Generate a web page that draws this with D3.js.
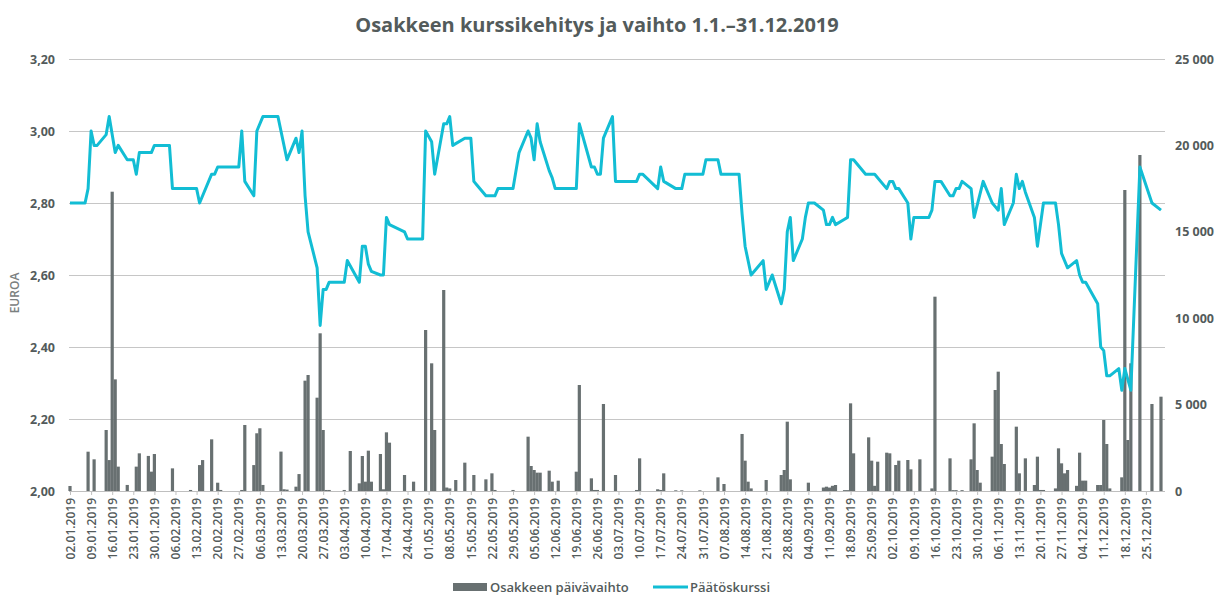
<!DOCTYPE html>
<html>
<head>
<meta charset="utf-8">
<script src="https://cdn.jsdelivr.net/npm/d3@7"></script>
<style>
  body { margin: 0; background: #fff; }
  svg { display: block; font-family: "Open Sans", sans-serif; }
</style>
</head>
<body>
<div id="chart"></div>
<script>
// closing price (points where the line turns)
const priceDates = ["02.01","07.01","08.01","09.01","10.01","11.01","14.01","15.01","17.01","18.01","21.01","23.01","24.01","25.01","29.01","30.01","04.02","05.02","13.02","14.02","18.02","19.02","20.02","27.02","28.02","01.03","04.03","05.03","07.03","12.03","15.03","18.03","19.03","20.03","21.03","22.03","25.03","26.03","27.03","28.03","29.03","03.04","04.04","08.04","09.04","10.04","11.04","12.04","15.04","16.04","17.04","18.04","23.04","24.04","29.04","30.04","02.05","03.05","06.05","07.05","08.05","09.05","13.05","15.05","16.05","17.05","20.05","23.05","24.05","29.05","31.05","03.06","04.06","05.06","06.06","07.06","10.06","11.06","12.06","19.06","20.06","24.06","25.06","26.06","27.06","28.06","01.07","02.07","09.07","10.07","11.07","16.07","17.07","18.07","22.07","24.07","25.07","31.07","01.08","05.08","06.08","12.08","13.08","14.08","16.08","20.08","21.08","23.08","26.08","27.08","28.08","29.08","30.08","02.09","03.09","04.09","06.09","09.09","10.09","11.09","12.09","13.09","16.09","17.09","18.09","19.09","23.09","26.09","30.09","01.10","02.10","03.10","04.10","07.10","08.10","09.10","14.10","15.10","16.10","18.10","21.10","22.10","23.10","24.10","25.10","28.10","29.10","01.11","04.11","05.11","06.11","07.11","08.11","11.11","12.11","13.11","14.11","15.11","18.11","19.11","21.11","25.11","26.11","27.11","29.11","02.12","03.12","04.12","05.12","09.12","10.12","11.12","12.12","13.12","16.12","17.12","18.12","20.12","23.12","27.12","30.12"];
const priceValues = [2.80,2.80,2.84,3.00,2.96,2.96,2.99,3.04,2.94,2.96,2.92,2.92,2.88,2.94,2.94,2.96,2.96,2.84,2.84,2.80,2.88,2.88,2.90,2.90,3.00,2.86,2.82,3.00,3.04,3.04,2.92,2.98,2.94,3.00,2.82,2.72,2.62,2.46,2.56,2.56,2.58,2.58,2.64,2.58,2.68,2.68,2.63,2.61,2.60,2.60,2.76,2.74,2.72,2.70,2.70,3.00,2.97,2.88,3.02,3.02,3.04,2.96,2.98,2.98,2.86,2.85,2.82,2.82,2.84,2.84,2.94,3.00,2.98,2.92,3.02,2.97,2.89,2.87,2.84,2.84,3.02,2.90,2.90,2.88,2.88,2.98,3.04,2.86,2.86,2.88,2.88,2.84,2.90,2.86,2.84,2.84,2.88,2.88,2.92,2.92,2.88,2.88,2.77,2.68,2.60,2.64,2.56,2.60,2.52,2.56,2.72,2.76,2.64,2.70,2.76,2.80,2.80,2.78,2.74,2.74,2.76,2.74,2.755,2.76,2.92,2.92,2.88,2.88,2.84,2.86,2.86,2.84,2.84,2.80,2.70,2.76,2.76,2.78,2.86,2.86,2.82,2.82,2.84,2.84,2.86,2.84,2.76,2.86,2.80,2.79,2.78,2.84,2.74,2.80,2.88,2.84,2.86,2.83,2.76,2.68,2.80,2.80,2.74,2.66,2.62,2.64,2.60,2.58,2.58,2.52,2.40,2.39,2.32,2.32,2.34,2.28,2.34,2.28,2.90,2.80,2.78];

// daily volume (shares)
const volumeDates = ["02.01","08.01","10.01","14.01","15.01","16.01","17.01","18.01","21.01","24.01","25.01","28.01","29.01","30.01","05.02","11.02","14.02","15.02","18.02","20.02","21.02","28.02","01.03","04.03","05.03","06.03","07.03","13.03","14.03","15.03","18.03","19.03","21.03","22.03","25.03","26.03","27.03","28.03","29.03","03.04","05.04","08.04","09.04","10.04","11.04","12.04","15.04","16.04","17.04","18.04","23.04","26.04","30.04","02.05","03.05","06.05","07.05","08.05","10.05","13.05","16.05","20.05","22.05","23.05","29.05","03.06","04.06","05.06","06.06","07.06","10.06","11.06","13.06","19.06","20.06","24.06","25.06","26.06","28.06","02.07","09.07","10.07","16.07","17.07","18.07","22.07","24.07","30.07","05.08","07.08","13.08","14.08","15.08","16.08","21.08","26.08","27.08","28.08","29.08","04.09","09.09","10.09","11.09","12.09","13.09","16.09","17.09","18.09","19.09","24.09","25.09","26.09","27.09","30.09","01.10","03.10","04.10","07.10","08.10","11.10","15.10","16.10","21.10","22.10","23.10","25.10","28.10","29.10","30.10","31.10","04.11","05.11","06.11","07.11","08.11","12.11","13.11","15.11","18.11","19.11","20.11","21.11","25.11","26.11","27.11","28.11","29.11","02.12","03.12","04.12","05.12","09.12","10.12","11.12","12.12","13.12","17.12","18.12","19.12","20.12","23.12","27.12","30.12"];
const volumeValues = [290,2275,1833,3530,1790,17320,6460,1410,350,1410,2180,2030,1120,2140,1310,60,1500,1790,2990,480,60,60,3820,1500,3340,3630,350,2280,100,80,250,980,6385,6713,5400,9126,3530,60,60,60,2315,444,2025,540,2334,540,2141,100,3395,2797,926,540,9317,7389,3530,11632,200,150,636,1640,926,675,1022,60,60,3144,1447,1215,1061,1061,1176,540,598,1118,6134,733,60,60,5035,926,60,1890,100,60,1022,40,40,40,791,405,3300,1755,540,150,636,926,1215,4012,675,482,200,250,200,300,347,50,50,5073,2180,3105,1755,300,1697,2218,2180,1505,1755,1794,1254,1833,150,11245,1890,50,50,50,1833,3916,1215,482,1987,5845,6906,2720,1562,3723,1022,1890,347,1987,60,60,150,2469,1601,1022,1215,300,2218,600,600,347,347,4109,2720,150,791,17419,2951,7389,19444,5035,5458];

const priceTicks = [2.00, 2.20, 2.40, 2.60, 2.80, 3.00, 3.20];
const volumeTicks = [0, 5000, 10000, 15000, 20000, 25000];

const parseDay = s => d3.timeParse("%d.%m.%Y")(s + ".2019");

const width = 1231;
const height = 595;
const plot = { left: 70, right: 1164, top: 59, bottom: 491 };

const textColor = "#535b5b";
const barColor = "#687071";
const lineColor = "#12bdd4";
const gridColor = "#c6c6c6";

const svg = d3.select("#chart")
    .append("svg")
    .attr("width", width)
    .attr("height", height);

const x = d3.scaleTime()
    .domain([parseDay("02.01"), parseDay("31.12")])
    .range([plot.left, plot.right]);

const yPrice = d3.scaleLinear()
    .domain([2.0, 3.2])
    .range([plot.bottom, plot.top]);

const yVolume = d3.scaleLinear()
    .domain([0, 25000])
    .range([plot.bottom, plot.top]);

// title
svg.append("text")
    .attr("x", 597)
    .attr("y", 32)
    .attr("text-anchor", "middle")
    .attr("font-size", 20)
    .attr("font-weight", "bold")
    .attr("fill", textColor)
    .text("Osakkeen kurssikehitys ja vaihto 1.1.–31.12.2019");

// gridlines
svg.append("g")
    .selectAll("line")
    .data(priceTicks.slice(1))
    .join("line")
    .attr("x1", plot.left - 1)
    .attr("x2", plot.right + 1)
    .attr("y1", d => Math.round(yPrice(d)) + 0.5)
    .attr("y2", d => Math.round(yPrice(d)) + 0.5)
    .attr("stroke", gridColor)
    .attr("stroke-width", 1.2);

// left axis
const leftAxis = svg.append("g")
    .attr("transform", `translate(${plot.left - 1}, 0)`)
    .call(d3.axisLeft(yPrice)
        .tickValues(priceTicks)
        .tickSize(0)
        .tickPadding(14)
        .tickFormat(d => d3.format(".2f")(d).replace(".", ",")));
leftAxis.select(".domain").remove();
leftAxis.selectAll("text")
    .attr("font-size", 12.5)
    .attr("font-weight", "bold")
    .attr("fill", textColor)
    .attr("font-family", "Open Sans, sans-serif");

// right axis
const rightAxis = svg.append("g")
    .attr("transform", `translate(${plot.right + 1}, 0)`)
    .call(d3.axisRight(yVolume)
        .tickValues(volumeTicks)
        .tickSize(0)
        .tickPadding(10)
        .tickFormat(d => d3.format(",")(d).replace(",", " ")));
rightAxis.select(".domain").remove();
rightAxis.selectAll("text")
    .attr("font-size", 12.5)
    .attr("font-weight", "bold")
    .attr("fill", textColor)
    .attr("font-family", "Open Sans, sans-serif");

// y axis title
svg.append("text")
    .attr("transform", "translate(19, 293) rotate(-90)")
    .attr("text-anchor", "middle")
    .attr("font-size", 12)
    .attr("font-weight", 600)
    .attr("fill", "#7a8080")
    .text("EUROA");

// volume bars
const barW = 3.2;
svg.append("g")
    .selectAll("rect")
    .data(volumeDates.map((d, i) => ({ date: parseDay(d), value: volumeValues[i] })))
    .join("rect")
    .attr("x", d => x(d.date) - barW / 2)
    .attr("y", d => yVolume(d.value))
    .attr("width", barW)
    .attr("height", d => yVolume(0) - yVolume(d.value))
    .attr("fill", barColor);

// x axis
const weekTicks = d3.timeDay.range(parseDay("02.01"), parseDay("31.12"), 7);
const xAxis = svg.append("g")
    .attr("transform", `translate(0, ${plot.bottom})`)
    .call(d3.axisBottom(x)
        .tickValues(weekTicks)
        .tickSize(4)
        .tickFormat(d3.timeFormat("%d.%m.%Y")));
xAxis.select(".domain")
    .attr("stroke", "#bfbfbf")
    .attr("stroke-width", 1.2)
    .attr("d", `M${plot.left - 1},0.5H${plot.right + 1}`);
xAxis.selectAll(".tick line").attr("stroke", "#bfbfbf");
xAxis.selectAll("text")
    .attr("transform", "rotate(-90)")
    .attr("x", -7)
    .attr("y", 0)
    .attr("dy", "0.35em")
    .attr("text-anchor", "end")
    .attr("font-size", 12)
    .attr("font-weight", 600)
    .attr("fill", textColor)
    .attr("font-family", "Open Sans, sans-serif");

// closing price line
const line = d3.line()
    .x(d => x(d.date))
    .y(d => yPrice(d.value));

svg.append("path")
    .datum(priceDates.map((d, i) => ({ date: parseDay(d), value: priceValues[i] })))
    .attr("d", line)
    .attr("fill", "none")
    .attr("stroke", lineColor)
    .attr("stroke-width", 3)
    .attr("stroke-linejoin", "round");

// legend
const legend = svg.append("g").attr("transform", "translate(0, 587)");
legend.append("rect")
    .attr("x", 453)
    .attr("y", -4)
    .attr("width", 34)
    .attr("height", 8)
    .attr("fill", barColor);
legend.append("text")
    .attr("x", 490)
    .attr("y", 0)
    .attr("dy", "0.35em")
    .attr("font-size", 13)
    .attr("font-weight", 600)
    .attr("fill", textColor)
    .text("Osakkeen päivävaihto");
legend.append("line")
    .attr("x1", 653)
    .attr("x2", 688)
    .attr("y1", 0)
    .attr("y2", 0)
    .attr("stroke", lineColor)
    .attr("stroke-width", 3);
legend.append("text")
    .attr("x", 690)
    .attr("y", 0)
    .attr("dy", "0.35em")
    .attr("font-size", 13)
    .attr("font-weight", 600)
    .attr("fill", textColor)
    .text("Päätöskurssi");
</script>
</body>
</html>
